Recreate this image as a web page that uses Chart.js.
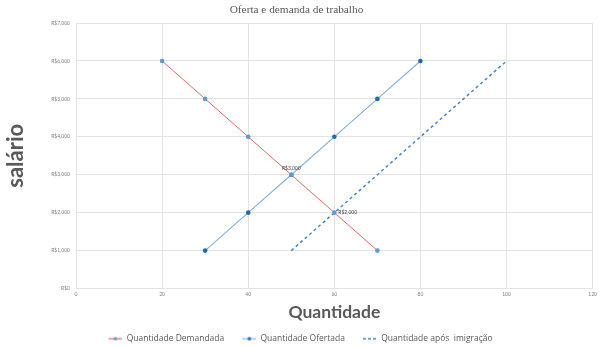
<!DOCTYPE html>
<html>
<head>
<meta charset="utf-8">
<script src="https://cdn.jsdelivr.net/npm/chart.js@4/dist/chart.umd.min.js"></script>
<style>
  html, body { margin: 0; padding: 0; background: #fff; }
  #wrap { width: 600px; height: 348px; }
</style>
</head>
<body>
<div id="wrap"><canvas id="c"></canvas></div>
<script>
// Labour market: demand, supply and supply after immigration
const demandQty    = [20, 30, 40, 50, 60, 70];
const demandWage   = [6000, 5000, 4000, 3000, 2000, 1000];
const supplyQty    = [30, 40, 50, 60, 70, 80];
const supplyWage   = [1000, 2000, 3000, 4000, 5000, 6000];
const immigQty     = [50, 100];
const immigWage    = [1000, 6000];
const seriesNames  = ['Quantidade Demandada', 'Quantidade Ofertada', 'Quantidade após  imigração'];

// value labels: [dataset index, point index, position]
const valueLabels  = [[1, 2, 'top'], [0, 4, 'right']];

const toPoints = (xs, ys) => xs.map((x, i) => ({ x: x, y: ys[i] }));
const fmtMoney = v => 'R$' + v.toLocaleString('en-US');

const GRAY = '#595959';

// legend swatches: transparent lead-in, then a short line with optional dot
const SW_LEAD = 8, SW_LINE = 14;
function swatch(lineColor, dotColor, dashed) {
  const c = document.createElement('canvas');
  c.width = SW_LEAD + SW_LINE; c.height = 8;
  const g = c.getContext('2d');
  g.strokeStyle = lineColor;
  g.lineWidth = dashed ? 1.3 : 2.2;
  if (dashed) g.setLineDash([3, 2]);
  g.beginPath(); g.moveTo(SW_LEAD, 4); g.lineTo(SW_LEAD + SW_LINE, 4); g.stroke();
  if (dotColor) {
    g.fillStyle = dotColor;
    g.beginPath(); g.arc(SW_LEAD + SW_LINE / 2, 4, 1.8, 0, Math.PI * 2); g.fill();
  }
  return c;
}
const swatches = [
  swatch('#f2a7a4', '#5b9bd5', false),
  swatch('#b9d5ef', '#1f6fc0', false),
  swatch('#3f87cf', null, true)
];

const valueLabelPlugin = {
  id: 'valueLabels',
  afterDatasetsDraw(chart) {
    const ctx = chart.ctx;
    ctx.save();
    ctx.font = '5px Lato';
    ctx.fillStyle = '#404040';
    valueLabels.forEach(([ds, idx, pos]) => {
      const el = chart.getDatasetMeta(ds).data[idx];
      const v = chart.data.datasets[ds].data[idx].y;
      const txt = fmtMoney(v);
      if (pos === 'top') {
        ctx.textAlign = 'center'; ctx.textBaseline = 'bottom';
        ctx.fillText(txt, el.x, el.y - 4);
      } else {
        ctx.textAlign = 'left'; ctx.textBaseline = 'middle';
        ctx.fillText(txt, el.x + 4, el.y);
      }
    });
    ctx.restore();
  }
};

new Chart(document.getElementById('c'), {
  type: 'scatter',
  data: {
    datasets: [
      {
        label: seriesNames[0],
        data: toPoints(demandQty, demandWage),
        showLine: true,
        borderColor: '#e06b66',
        borderWidth: 1,
        pointRadius: 2.3,
        pointBackgroundColor: '#5b9bd5',
        pointBorderColor: '#5b9bd5',
        pointBorderWidth: 0
      },
      {
        label: seriesNames[1],
        data: toPoints(supplyQty, supplyWage),
        showLine: true,
        borderColor: '#7fb0de',
        borderWidth: 1.1,
        pointRadius: 2.3,
        pointBackgroundColor: '#1a6bbf',
        pointBorderColor: '#1a6bbf',
        pointBorderWidth: 0
      },
      {
        label: seriesNames[2],
        data: toPoints(immigQty, immigWage),
        showLine: true,
        borderColor: '#3f87cf',
        borderWidth: 1.5,
        borderDash: [3, 3],
        pointRadius: 0
      }
    ]
  },
  options: {
    responsive: true,
    maintainAspectRatio: false,
    animation: false,
    layout: { padding: { left: 0, right: 7, top: 0, bottom: -5 } },
    plugins: {
      title: {
        display: true,
        text: 'Oferta e demanda de trabalho',
        color: GRAY,
        font: { family: 'Liberation Serif', size: 11.3, weight: 'normal' },
        padding: { top: 3, bottom: 6.5 }
      },
      legend: {
        position: 'bottom',
        labels: {
          color: GRAY,
          font: { family: 'Open Sans', size: 8.5 },
          usePointStyle: true,
          pointStyleWidth: SW_LEAD + SW_LINE,
          boxHeight: 8,
          padding: 10,
          generateLabels: chart => chart.data.datasets.map((d, i) => ({
            text: d.label,
            pointStyle: swatches[i],
            datasetIndex: i,
            fontColor: GRAY,
            lineWidth: 0,
            strokeStyle: 'transparent',
            fillStyle: 'transparent'
          }))
        }
      },
      tooltip: { enabled: false }
    },
    scales: {
      x: {
        type: 'linear',
        min: 0, max: 120,
        ticks: { stepSize: 20, color: '#7f7f7f', font: { family: 'Lato', size: 5 }, padding: 3 },
        grid: { color: '#e3e3e3', drawTicks: false },
        border: { display: false },
        title: {
          display: true,
          text: 'Quantidade',
          color: GRAY,
          font: { family: 'Lato', size: 17.5, weight: 'bold' },
          padding: { top: 2, bottom: 1.5 }
        },
        afterFit: s => { s.height = 36; }
      },
      y: {
        type: 'linear',
        min: 0, max: 7000,
        ticks: {
          stepSize: 1000,
          color: '#7f7f7f',
          font: { family: 'Lato', size: 5 },
          padding: 6,
          callback: v => fmtMoney(v)
        },
        grid: { color: '#e3e3e3', drawTicks: false },
        border: { display: false },
        title: {
          display: true,
          text: 'salário',
          color: GRAY,
          font: { family: 'Lato', size: 22, weight: 'bold' },
          padding: { top: 3, bottom: 0 }
        },
        afterFit: s => { s.width = 76; }
      }
    }
  },
  plugins: [valueLabelPlugin]
});
</script>
</body>
</html>
